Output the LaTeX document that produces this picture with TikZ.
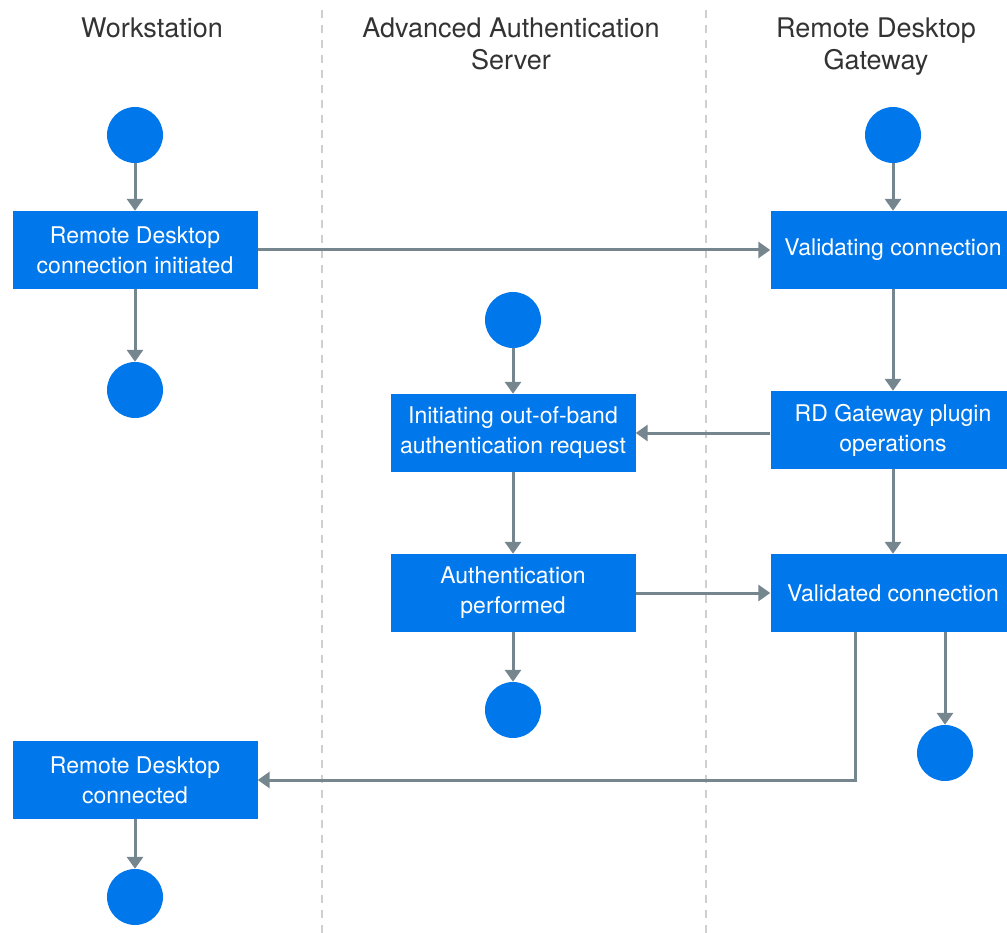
\documentclass[tikz,border=0pt]{standalone}
\usepackage{fontspec}
\setmainfont{TeX Gyre Heros}
\usepackage{tikz}
\usetikzlibrary{positioning}
\usetikzlibrary{arrows.meta}
\definecolor{actblue}{HTML}{0077EA}
\definecolor{flowgrey}{HTML}{76868F}
\definecolor{lanegrey}{HTML}{CFCFCF}

\begin{document}
\begin{tikzpicture}[
x=1pt, y=-1pt,
act/.style={rectangle, fill=actblue, text=white, minimum width=245pt, minimum height=78pt, inner sep=0, align=center, font=\fontsize{23}{30}\selectfont},
state/.style={circle, fill=actblue, minimum size=56pt, inner sep=0},
lane/.style={text=black!80, align=center, font=\fontsize{27}{32}\selectfont},
flow/.style={-{Triangle[length=12pt, width=16pt]}, line width=3pt, flowgrey},
lanesep/.style={line width=1.5pt, lanegrey, dash pattern=on 8pt off 7pt}
]
\useasboundingbox (0,0) rectangle (1007,933);
\draw[lanesep] (322,10) -- (322,933);
\draw[lanesep] (706,10) -- (706,933);
\node[lane] (ws) at (152,28) {Workstation};
\node[lane] (aas) at (511,44) {Advanced Authentication\\Server};
\node[lane] (rdg) at (876,47) {Remote Desktop\\Gateway};
\node[act] (initiated) at (135,250) {Remote Desktop\\connection initiated};
\node[act] (validating) at (893,250) {Validating connection};
\node[act] (plugin) at (893,430) {RD Gateway plugin\\operations};
\node[act] (request) at (513,433) {Initiating out-of-band\\authentication request};
\node[act] (performed) at (513,593) {Authentication\\performed};
\node[act] (validated) at (893,593) {Validated connection};
\node[act] (connected) at (135,780) {Remote Desktop\\connected};
\node[state] (wsstart) at (135,135) {};
\node[state] (wsend) at (135,390) {};
\node[state] (wsdone) at (135,897) {};
\node[state] (aasstart) at (513,320) {};
\node[state] (aasend) at (513,710) {};
\node[state] (rdgstart) at (893,135) {};
\node[state] (rdgend) at (945,753) {};
\draw[flow] (wsstart) -- (initiated);
\draw[flow] (initiated) -- (wsend);
\draw[flow] (initiated) -- (validating);
\draw[flow] (rdgstart) -- (validating);
\draw[flow] (validating) -- (plugin);
\draw[flow] (plugin.west |- request.east) -- (request.east);
\draw[flow] (aasstart) -- (request);
\draw[flow] (request) -- (performed);
\draw[flow] (performed) -- (aasend);
\draw[flow] (plugin) -- (validated);
\draw[flow] (performed) -- (validated);
\draw[flow] (validated.south -| rdgend) -- (rdgend);
\draw[flow] ([xshift=-38pt]validated.south) |- (connected.east);
\draw[flow] (connected) -- (wsdone);
\end{tikzpicture}
\end{document}
